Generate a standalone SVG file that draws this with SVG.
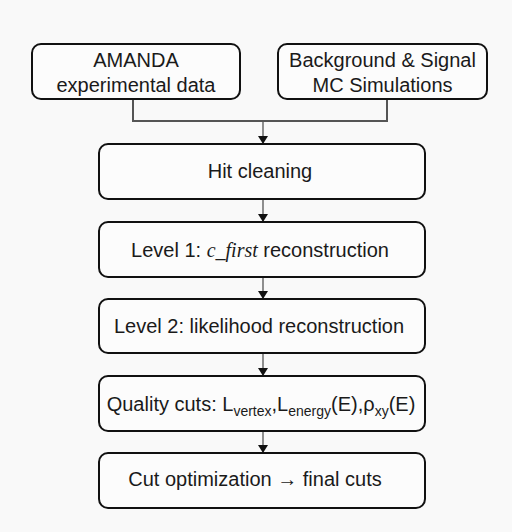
<svg xmlns="http://www.w3.org/2000/svg" width="512" height="532" viewBox="0 0 512 532">
  <defs>
    <marker id="arr" markerWidth="10" markerHeight="10" refX="8" refY="5" orient="auto" markerUnits="userSpaceOnUse">
      <path d="M0,0 L8,5 L0,10 Z" fill="#111"/>
    </marker>
    <style>
      .box { fill: #fcfcfc; stroke: #111; stroke-width: 2; }
      .t { font-family: "Liberation Sans", Arial, sans-serif; font-size: 20px; fill: #1a1a1a; text-anchor: middle; }
      .sub { font-size: 14px; }
      .it { font-family: "Liberation Serif", "Times New Roman", serif; font-style: italic; }
      .conn { fill: none; stroke: #555; stroke-width: 2; }
      .arrow { fill: none; stroke: #555; stroke-width: 1.3; marker-end: url(#arr); }
    </style>
  </defs>
  <rect width="512" height="532" fill="#f9f9f9"/>

  <g id="connectors">
    <path class="conn" d="M133,99 V121 H387 V99"/>
    <line class="arrow" x1="263" y1="121" x2="263" y2="144"/>
    <line class="arrow" x1="263" y1="199" x2="263" y2="222"/>
    <line class="arrow" x1="263" y1="277" x2="263" y2="299"/>
    <line class="arrow" x1="263" y1="353" x2="263" y2="376"/>
    <line class="arrow" x1="263" y1="431" x2="263" y2="453"/>
  </g>

  <g id="amanda">
    <rect class="box" x="32" y="44" width="208" height="55" rx="9"/>
    <text class="t" x="136" y="67">AMANDA</text>
    <text class="t" x="136" y="92">experimental data</text>
  </g>

  <g id="mc">
    <rect class="box" x="278" y="44" width="209" height="55" rx="9"/>
    <text class="t" x="382.5" y="67">Background &amp; Signal</text>
    <text class="t" x="382.5" y="92">MC Simulations</text>
  </g>

  <g id="hit">
    <rect class="box" x="99" y="144" width="326" height="55" rx="9"/>
    <text class="t" x="260" y="178">Hit cleaning</text>
  </g>

  <g id="level1">
    <rect class="box" x="99" y="222" width="326" height="55" rx="9"/>
    <text class="t" x="260" y="256.5">Level 1: <tspan class="it">c_first</tspan> reconstruction</text>
  </g>

  <g id="level2">
    <rect class="box" x="99" y="299" width="326" height="54" rx="9"/>
    <text class="t" x="259" y="333">Level 2: likelihood reconstruction</text>
  </g>

  <g id="quality">
    <rect class="box" x="99" y="376" width="326" height="55" rx="9"/>
    <text class="t" x="261" y="410.5">Quality cuts: L<tspan class="sub" dy="5">vertex</tspan><tspan dy="-5">,L</tspan><tspan class="sub" dy="5">energy</tspan><tspan dy="-5">(E),ρ</tspan><tspan class="sub" dy="5">xy</tspan><tspan dy="-5">(E)</tspan></text>
  </g>

  <g id="cutopt">
    <rect class="box" x="99" y="453" width="326" height="55" rx="9"/>
    <text class="t" x="255" y="486">Cut optimization → final cuts</text>
  </g>
</svg>
